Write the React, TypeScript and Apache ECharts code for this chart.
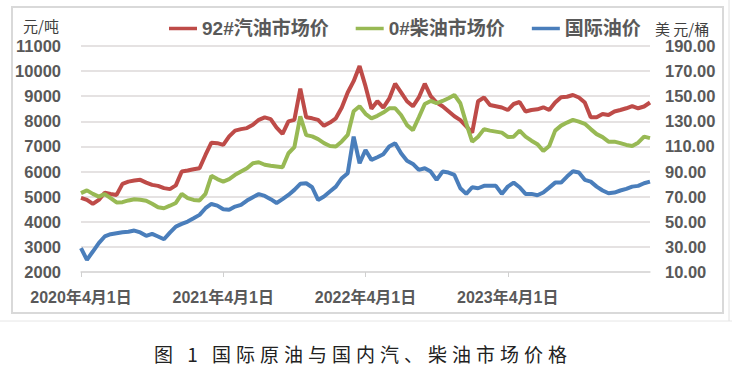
import React, { useEffect, useRef } from "react";
import * as echarts from "echarts";

// semi-monthly dates, 2020-04-01 .. 2024-04-01
const categories: string[] = [];
for (let k = 0; k <= 48; k++) {
  const m0 = 3 + k; // month index from Jan 2020 (0-based)
  const y = 2020 + Math.floor(m0 / 12);
  const m = (m0 % 12) + 1;
  categories.push(`${y}年${m}月1日`);
  if (k < 48) categories.push(`${y}年${m}月16日`);
}

const tickLabels = ["2020年4月1日", "2021年4月1日", "2022年4月1日", "2023年4月1日"];

const seriesNames = ["92#汽油市场价", "0#柴油市场价", "国际油价"];

// 元/吨
const gasoline92 = [
  4950, 4870, 4710, 4870, 5160, 5110, 5070, 5510, 5600, 5640, 5670, 5560, 5470, 5430, 5340, 5300, 5450, 6000, 6040, 6090, 6130, 6660, 7150, 7130, 7060,
  7400, 7630, 7690, 7730, 7860, 8060, 8160, 8090, 7750, 7500, 8000, 8060, 9300, 8160, 8120, 8060, 7820, 7950, 8120, 8550, 9150, 9600, 10200, 9400,
  8500, 8800, 8550, 8900, 9500, 9150, 8800, 8600, 8950, 9500, 9000, 8750, 8600, 8400, 8200, 8050, 7800, 7550, 8800, 8950, 8650, 8600, 8550, 8450,
  8690, 8770, 8390, 8450, 8480, 8560, 8450, 8750, 8960, 8980, 9050, 8950, 8750, 8160, 8160, 8290, 8250, 8390, 8450, 8520, 8610, 8520, 8590, 8750,
];

// 元/吨
const diesel0 = [
  5140, 5250, 5110, 5000, 5100, 4940, 4770, 4780, 4850, 4900, 4880, 4840, 4720, 4580, 4540, 4640, 4750, 5110, 4940, 4870, 4850, 5110, 5830, 5700, 5600,
  5700, 5870, 6000, 6130, 6330, 6370, 6270, 6230, 6200, 6170, 6730, 6970, 8200, 7450, 7400, 7290, 7130, 7020, 7000, 7200, 7460, 8400, 8600, 8300,
  8120, 8220, 8350, 8520, 8520, 8250, 7850, 7650, 8160, 8690, 8810, 8720, 8810, 8920, 9050, 8720, 7920, 7190, 7390, 7690, 7630, 7590, 7550, 7380,
  7390, 7630, 7390, 7230, 7090, 6820, 7020, 7630, 7830, 7950, 8060, 7990, 7900, 7690, 7490, 7370, 7190, 7190, 7130, 7060, 7020, 7150, 7390, 7330,
];

// 美元/桶
const brent = [
  29.0, 19.7, 26.3, 33.0, 38.3, 40.1, 40.9, 41.7, 42.0, 43.0, 41.5, 38.8, 40.4, 38.3, 36.1, 41.4, 46.2, 48.3, 50.2, 52.8, 55.5, 60.8, 64.2, 62.9, 60.0,
  59.5, 62.1, 63.5, 66.9, 69.6, 72.0, 70.6, 68.0, 65.0, 68.0, 71.4, 75.4, 80.2, 80.7, 77.5, 67.4, 70.1, 74.1, 78.0, 84.7, 88.7, 117.8, 96.6, 107.2,
  99.3, 101.4, 103.8, 109.9, 112.5, 104.6, 98.7, 96.1, 91.3, 92.6, 90.0, 83.4, 90.0, 89.2, 87.3, 76.7, 72.2, 77.5, 76.7, 78.6, 78.6, 78.6, 72.2, 78.0,
  81.2, 77.5, 72.2, 72.2, 71.1, 73.3, 77.2, 81.2, 81.2, 86.0, 90.2, 89.2, 83.4, 82.0, 78.0, 74.9, 72.7, 73.3, 74.9, 76.2, 78.0, 78.6, 80.7, 82.0,
];

const colors = ["#BE4B48", "#98B954", "#4A7EBB"];
const FONT = '"Liberation Sans", Arial, "Noto Sans CJK SC", sans-serif';
const CJK = '"Noto Sans CJK SC", "Liberation Sans", sans-serif';

export default function App() {
  const ref = useRef<HTMLDivElement>(null);
  useEffect(() => {
    if (!ref.current) return;
    const chart = echarts.init(ref.current, null, { renderer: "svg" });
    const isTick = (_i: number, v: string) => tickLabels.includes(v);
    chart.setOption({
      animation: false,
      backgroundColor: "#ffffff",
      color: colors,
      grid: { left: 81, right: 82, top: 46, bottom: 116, containLabel: false },
      legend: {
        data: seriesNames,
        left: 164,
        top: 14,
        icon: "rect",
        itemWidth: 28,
        itemHeight: 3.5,
        itemGap: 27,
        textStyle: { fontSize: 19, fontWeight: "bold", color: "#595959", fontFamily: FONT },
      },
      graphic: [
        {
          type: "rect",
          shape: { x: 12, y: 7, width: 711, height: 306 },
          style: { fill: "none", stroke: "#d9d9d9", lineWidth: 2 },
          silent: true,
        },
        {
          type: "line",
          shape: { x1: 0, y1: 321, x2: 732, y2: 321 },
          style: { stroke: "#e6e6e6", lineWidth: 1 },
          silent: true,
        },
        {
          type: "line",
          shape: { x1: 729, y1: 0, x2: 729, y2: 321 },
          style: { stroke: "#e0e0e0", lineWidth: 1 },
          silent: true,
        },
        {
          type: "text",
          x: 23,
          y: 25,
          style: { text: "元/吨", font: `15px ${CJK}`, fill: "#404040", verticalAlign: "middle" },
        },
        {
          type: "text",
          x: 655,
          y: 28,
          style: { text: "美 元/桶", font: `15px ${CJK}`, fill: "#404040", verticalAlign: "middle" },
        },
      ],
      xAxis: {
        type: "category",
        data: categories,
        boundaryGap: false,
        axisLine: { lineStyle: { color: "#d9d9d9", width: 1.5 } },
        axisTick: { interval: isTick, length: 5, lineStyle: { color: "#d0d0d0" } },
        axisLabel: {
          interval: isTick,
          margin: 17,
          fontSize: 16,
          fontWeight: "bold",
          color: "#595959",
          fontFamily: FONT,
          lineHeight: 16,
        },
        splitLine: { show: false },
      },
      yAxis: [
        {
          type: "value",
          min: 2000,
          max: 11000,
          interval: 1000,
          axisLine: { show: false },
          axisTick: { show: false },
          axisLabel: {
            margin: 20,
            fontSize: 16.5,
            fontWeight: "bold",
            color: "#595959",
            fontFamily: FONT,
            formatter: (v: number) => String(v),
          },
          splitLine: { lineStyle: { color: "#dcd8d8", width: 1.5 } },
        },
        {
          type: "value",
          min: 10,
          max: 190,
          interval: 20,
          axisLine: { show: false },
          axisTick: { show: false },
          axisLabel: {
            margin: 15,
            fontSize: 16.5,
            fontWeight: "bold",
            color: "#595959",
            fontFamily: FONT,
            formatter: (v: number) => v.toFixed(2),
          },
          splitLine: { show: false },
        },
      ],
      series: [
        {
          name: seriesNames[0],
          type: "line",
          data: gasoline92,
          showSymbol: false,
          lineStyle: { width: 4, color: colors[0] },
          itemStyle: { color: colors[0] },
        },
        {
          name: seriesNames[1],
          type: "line",
          data: diesel0,
          showSymbol: false,
          lineStyle: { width: 4, color: colors[1] },
          itemStyle: { color: colors[1] },
        },
        {
          name: seriesNames[2],
          type: "line",
          yAxisIndex: 1,
          data: brent,
          showSymbol: false,
          lineStyle: { width: 4, color: colors[2] },
          itemStyle: { color: colors[2] },
        },
      ],
    });
    return () => chart.dispose();
  }, []);

  return (
    <div style={{ position: "fixed", left: 0, top: 0, width: 732, height: 388, background: "#fff" }}>
      <div ref={ref} style={{ position: "absolute", left: 0, top: 0, width: 732, height: 388 }} />
      <div
        style={{
          position: "absolute",
          left: 154,
          top: 344,
          fontFamily: CJK,
          fontSize: 19,
          lineHeight: "19px",
          letterSpacing: "5px",
          color: "#222",
          whiteSpace: "nowrap",
        }}
      >
        图 1 国际原油与国内汽、柴油市场价格
      </div>
    </div>
  );
}
